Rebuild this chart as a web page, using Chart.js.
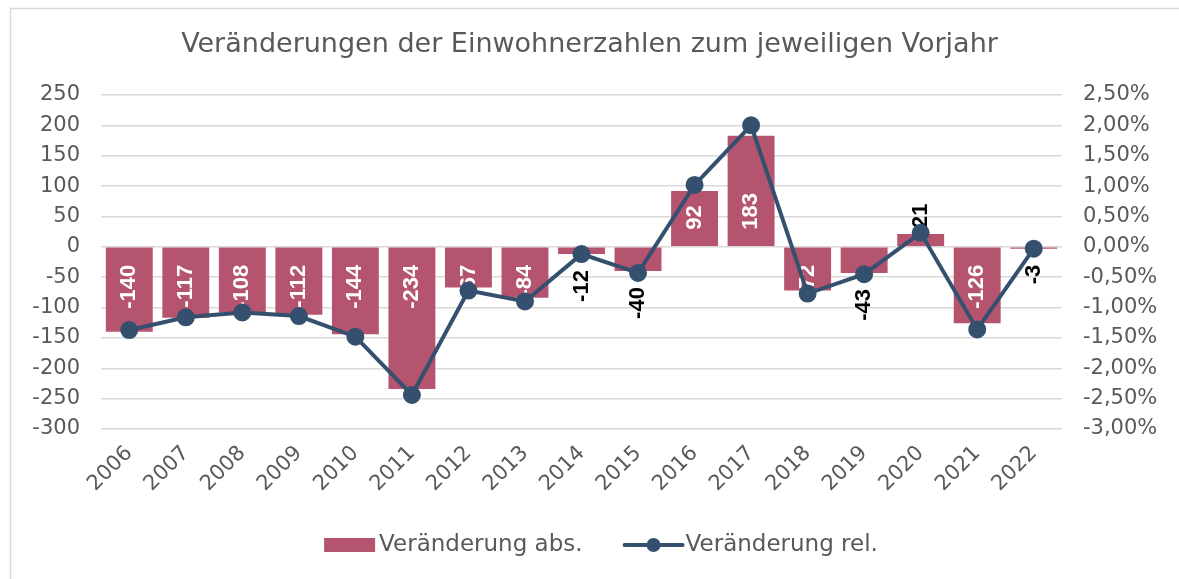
<!DOCTYPE html>
<html>
<head>
<meta charset="utf-8">
<script src="https://cdn.jsdelivr.net/npm/chart.js@4"></script>
<style>
  html, body { margin: 0; padding: 0; background: #fff; }
  #wrap { width: 1179px; height: 579px; }
</style>
</head>
<body>
<div id="wrap"><canvas id="popChart" width="1179" height="579"></canvas></div>
<script>
// Daten
const years = ['2006', '2007', '2008', '2009', '2010', '2011', '2012', '2013', '2014',
    '2015', '2016', '2017', '2018', '2019', '2020', '2021', '2022'];
const absChange = [-140, -117, -108, -112, -144, -234, -67, -84, -12, -40, 92, 183, -72, -43, 21, -126, -3];
const relChange = [-1.37, -1.16, -1.08, -1.14, -1.48, -2.44, -0.72, -0.90, -0.12, -0.43, 1.02, 2.00, -0.77, -0.45, 0.23, -1.36, -0.03];
const absTicks = [-300, -250, -200, -150, -100, -50, 0, 50, 100, 150, 200, 250];
const relTicks = [-3, -2.5, -2, -1.5, -1, -0.5, 0, 0.5, 1, 1.5, 2, 2.5];

const barColor = '#b5546f';
const lineColor = '#34506e';
const textGray = '#595959';
const gridGray = '#d9d9d9';
const tickFont = { family: 'DejaVu Sans', size: 21 };

// Hintergrund und Rahmen
const frame = {
    id: 'frame',
    beforeDraw(chart) {
        const ctx = chart.ctx;
        ctx.save();
        ctx.fillStyle = '#fff';
        ctx.fillRect(0, 0, chart.width, chart.height);
        ctx.strokeStyle = gridGray;
        ctx.lineWidth = 1.5;
        ctx.strokeRect(10.5, 8.5, chart.width + 20, chart.height + 20);
        ctx.restore();
    }
};

// Datenbeschriftungen (senkrecht)
const barLabels = {
    id: 'barLabels',
    afterDatasetDraw(chart, args) {
        if (args.index !== 0) return;
        const ctx = chart.ctx;
        const zero = chart.scales.y.getPixelForValue(0);
        args.meta.data.forEach(function(bar, i) {
            const v = absChange[i];
            const inside = Math.abs(v) >= 60;
            let y;
            if (inside) {
                y = v < 0 ? zero + 18 : zero - 17;
            } else {
                y = v < 0 ? bar.y + 16 : bar.y - 6;
            }
            ctx.save();
            ctx.font = 'bold 22px "Liberation Sans"';
            ctx.fillStyle = inside ? '#ffffff' : '#000000';
            ctx.textBaseline = 'middle';
            ctx.textAlign = v < 0 ? 'right' : 'left';
            ctx.translate(bar.x, y);
            ctx.rotate(-Math.PI / 2);
            ctx.fillText(String(v), 0, 0);
            ctx.restore();
        });
    }
};

// Legende
const customLegend = {
    id: 'customLegend',
    afterDraw(chart) {
        const ctx = chart.ctx;
        const label1 = chart.data.datasets[0].label;
        const label2 = chart.data.datasets[1].label;
        ctx.save();
        ctx.font = '23px "DejaVu Sans"';
        const w1 = ctx.measureText(label1).width;
        const w2 = ctx.measureText(label2).width;
        const total = 51 + 4 + w1 + 42 + 58 + 3 + w2;
        let x = 601 - total / 2;
        const y = 545;
        ctx.fillStyle = barColor;
        ctx.fillRect(x, y - 7, 51, 14);
        x += 55;
        ctx.fillStyle = textGray;
        ctx.textBaseline = 'middle';
        ctx.textAlign = 'left';
        ctx.fillText(label1, x, y);
        x += w1 + 42;
        ctx.strokeStyle = lineColor;
        ctx.lineWidth = 4;
        ctx.lineCap = 'round';
        ctx.beginPath();
        ctx.moveTo(x, y);
        ctx.lineTo(x + 58, y);
        ctx.stroke();
        ctx.fillStyle = lineColor;
        ctx.beginPath();
        ctx.arc(x + 29, y, 7, 0, Math.PI * 2);
        ctx.fill();
        x += 61;
        ctx.fillStyle = textGray;
        ctx.fillText(label2, x, y);
        ctx.restore();
    }
};

document.addEventListener('DOMContentLoaded', function() {
    const canvas = document.getElementById('popChart');
    new Chart(canvas, {
        data: {
            labels: years,
            datasets: [
                {
                    type: 'bar',
                    label: 'Veränderung abs.',
                    data: absChange,
                    backgroundColor: barColor,
                    yAxisID: 'y',
                    order: 2,
                    barPercentage: 0.83,
                    categoryPercentage: 1
                },
                {
                    type: 'line',
                    label: 'Veränderung rel.',
                    data: relChange,
                    borderColor: lineColor,
                    backgroundColor: lineColor,
                    borderWidth: 4,
                    pointRadius: 7,
                    pointHoverRadius: 7,
                    tension: 0,
                    yAxisID: 'y1',
                    order: 1
                }
            ]
        },
        options: {
            responsive: false,
            animation: false,
            layout: {
                padding: { left: 0, right: 0, top: 0, bottom: 70 }
            },
            plugins: {
                legend: { display: false },
                tooltip: { enabled: false },
                title: {
                    display: true,
                    text: 'Veränderungen der Einwohnerzahlen zum jeweiligen Vorjahr',
                    color: textGray,
                    font: { family: 'DejaVu Sans', size: 27, weight: 'normal' },
                    padding: { top: 29, bottom: 33.6 }
                }
            },
            scales: {
                x: {
                    grid: { display: false },
                    border: { display: false },
                    ticks: {
                        color: textGray,
                        font: tickFont,
                        minRotation: 45,
                        maxRotation: 45,
                        padding: 4
                    },
                    afterFit: function(scale) { scale.height = 80; }
                },
                y: {
                    position: 'left',
                    min: absTicks[0],
                    max: absTicks[absTicks.length - 1],
                    grid: { color: gridGray, lineWidth: 1.5, drawTicks: false },
                    border: { display: false },
                    afterBuildTicks: function(scale) {
                        scale.ticks = absTicks.map(function(v) { return { value: v }; });
                    },
                    ticks: {
                        color: textGray,
                        font: tickFont,
                        padding: 21
                    },
                    afterFit: function(scale) { scale.width = 101; }
                },
                y1: {
                    position: 'right',
                    min: relTicks[0],
                    max: relTicks[relTicks.length - 1],
                    grid: { display: false, drawTicks: false },
                    border: { display: false },
                    afterBuildTicks: function(scale) {
                        scale.ticks = relTicks.map(function(v) { return { value: v }; });
                    },
                    ticks: {
                        color: textGray,
                        font: tickFont,
                        padding: 21,
                        callback: function(value) {
                            return value.toFixed(2).replace('.', ',') + '%';
                        }
                    },
                    afterFit: function(scale) { scale.width = 117; }
                }
            }
        },
        plugins: [frame, barLabels, customLegend]
    });
});
</script>
</body>
</html>
